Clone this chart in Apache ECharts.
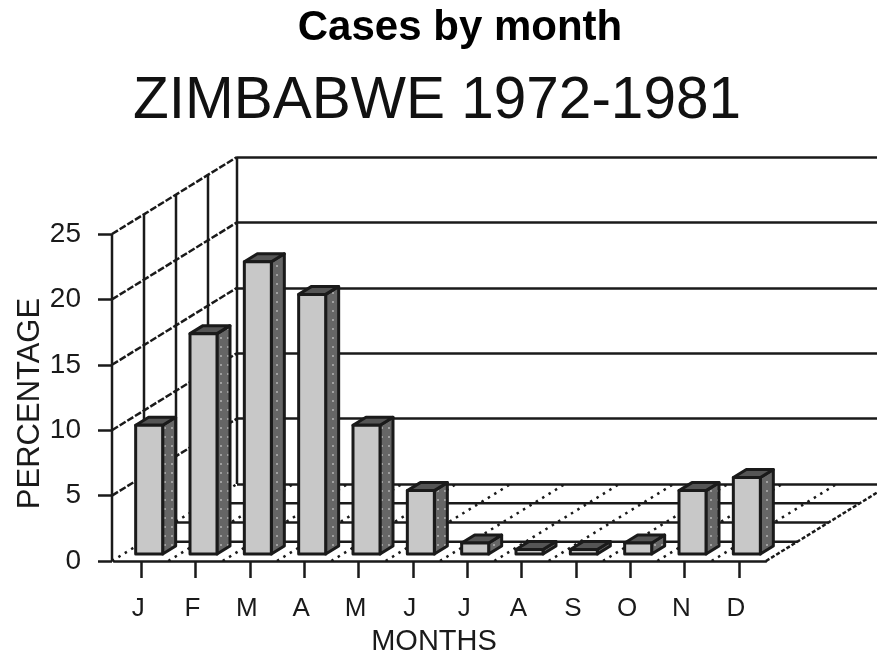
<!DOCTYPE html>
<html>
<head>
<meta charset="utf-8">
<style>
  html, body { margin: 0; padding: 0; background: #fff; }
  #chart { width: 877px; height: 655px; }
</style>
<script src="https://cdn.jsdelivr.net/npm/echarts@6/dist/echarts.min.js"></script>
</head>
<body>
<div id="chart"></div>
<script>
const months = ["J", "F", "M", "A", "M", "J", "J", "A", "S", "O", "N", "D"];
const percentages = [10, 17, 22.5, 20, 10, 5, 1, 0.5, 0.5, 1, 5, 6];
const yTicks = [0, 5, 10, 15, 20, 25];

const INK = "#1a1a1a";
const LINE_W = 2.5;
// depth of the fake 3D box, in px
const depthX = 125;
const depthY = 77;
const wallSteps = [0, 32, 64, 96, 125];
const wallLeft = 112;

// dotted dark fill for the bar sides
const sidePattern = document.createElement("canvas");
sidePattern.width = 7;
sidePattern.height = 9;
const pctx = sidePattern.getContext("2d");
pctx.fillStyle = "#666";
pctx.fillRect(0, 0, 7, 9);
pctx.fillStyle = "#a0a0a0";
pctx.fillRect(3, 4, 2, 2);

const line = (x1, y1, x2, y2, width, dash) => ({
  type: "line",
  shape: { x1, y1, x2, y2 },
  style: { stroke: INK, lineWidth: width, lineDash: dash || null },
});

// left wall and floor, worked out from the axis positions
function renderFrame(params, api) {
  const children = [];
  const band = api.size([1, 0])[0];
  const floorY = api.coord([0, 0])[1];
  const topY = api.coord([0, 25])[1];
  const firstEdge = api.coord([0, 0])[0] - band / 2;
  const edgeRight = firstEdge + band * months.length;

  // floor rows
  wallSteps.forEach((step, i) => {
    if (i === 0 || i === wallSteps.length - 1) return;
    const dy = (depthY * i) / (wallSteps.length - 1);
    const y = floorY - dy;
    const xEnd = edgeRight + (dy * depthX) / depthY;
    children.push(line(wallLeft + step, y, xEnd, y, LINE_W));
  });
  // floor diagonals
  for (let k = 0; k <= months.length; k++) {
    const x = k === 0 ? wallLeft : firstEdge + band * k;
    const dash = k === months.length ? [4, 2] : [2.5, 5];
    children.push(line(x, floorY, x + depthX, floorY - depthY, 2.5, dash));
  }
  // wall verticals
  wallSteps.forEach((step) => {
    const dy = (depthY * step) / depthX;
    children.push(line(wallLeft + step, topY - dy, wallLeft + step, floorY - dy, LINE_W));
  });
  // wall diagonals
  yTicks.forEach((v) => {
    if (v === 0) return;
    const y = api.coord([0, v])[1];
    children.push(line(wallLeft, y, wallLeft + depthX, y - depthY, LINE_W, [7, 2]));
  });
  return { type: "group", children };
}

// one bar: front, side and top faces
function renderBar(params, api) {
  const top = api.coord([api.value(0), api.value(1)]);
  const base = api.coord([api.value(0), 0]);
  const sx = 13;
  const sy = 8;
  const w = 27;
  const lift = 7;
  const left = base[0] - w / 2 + 8;
  const right = left + w;
  const bottom = base[1] - lift;
  const upper = top[1] - lift + 2;
  const stroke = { stroke: INK, lineWidth: 3, lineJoin: "round" };
  return {
    type: "group",
    children: [
      {
        type: "polygon",
        shape: { points: [[right, bottom], [right + sx, bottom - sy], [right + sx, upper - sy], [right, upper]] },
        style: { fill: { image: sidePattern, repeat: "repeat" }, ...stroke },
      },
      {
        type: "polygon",
        shape: { points: [[left, upper], [left + sx, upper - sy], [right + sx, upper - sy], [right, upper]] },
        style: { fill: "#555", ...stroke },
      },
      {
        type: "rect",
        shape: { x: left, y: upper, width: w, height: Math.max(bottom - upper, 1) },
        style: { fill: "#c8c8c8", ...stroke },
      },
    ],
  };
}

const chart = echarts.init(document.getElementById("chart"));
chart.setOption({
  animation: false,
  backgroundColor: "#fff",
  textStyle: { fontFamily: "Liberation Sans", color: INK },
  title: [
    {
      text: "Cases by month",
      left: 455,
      top: 2,
      textAlign: "center",
      textStyle: { fontFamily: "Liberation Sans", fontSize: 42, fontWeight: "bold", color: "#000" },
    },
    {
      text: "ZIMBABWE 1972-1981",
      left: 432,
      top: 67,
      textAlign: "center",
      textStyle: { fontFamily: "Liberation Sans", fontSize: 58.5, fontWeight: "normal", color: "#111" },
    },
  ],
  grid: [
    { left: 114, width: 652, top: 234, height: 327, outerBoundsMode: "none" },
    { left: 237, right: 0, top: 157, height: 327, outerBoundsMode: "none" },
  ],
  xAxis: [
    {
      type: "category",
      data: months,
      gridIndex: 0,
      name: "MONTHS",
      nameLocation: "middle",
      nameGap: 66,
      nameMoveOverlap: false,
      nameTextStyle: { fontSize: 29, color: INK, padding: [0, 12, 0, 0] },
      axisLine: { lineStyle: { color: INK, width: LINE_W } },
      axisTick: { show: true, alignWithLabel: true, length: 17, lineStyle: { color: INK, width: LINE_W } },
      axisLabel: { show: true, margin: 35, fontSize: 26, color: INK, padding: [0, 6, 0, 0], interval: 0 },
    },
    { type: "value", gridIndex: 1, show: false },
  ],
  yAxis: [
    {
      type: "value",
      gridIndex: 0,
      min: 0,
      max: 25,
      interval: 5,
      offset: 2,
      name: "PERCENTAGE",
      nameLocation: "middle",
      nameGap: 66,
      nameMoveOverlap: false,
      nameTextStyle: { fontSize: 31, color: INK, padding: [0, 12, 0, 0] },
      axisLine: { show: false },
      axisTick: { show: true, length: 14, lineStyle: { color: INK, width: LINE_W } },
      axisLabel: { margin: 31, fontSize: 28, color: INK },
      splitLine: { show: false },
    },
    {
      type: "value",
      gridIndex: 1,
      min: 0,
      max: 25,
      interval: 5,
      axisLine: { show: false },
      axisTick: { show: false },
      axisLabel: { show: false },
      splitLine: { show: true, lineStyle: { color: INK, width: LINE_W } },
    },
  ],
  series: [
    {
      type: "custom",
      name: "frame",
      xAxisIndex: 0,
      yAxisIndex: 0,
      clip: false,
      silent: true,
      z: 1,
      data: [[0, 0]],
      renderItem: renderFrame,
    },
    {
      type: "custom",
      name: "PERCENTAGE",
      xAxisIndex: 0,
      yAxisIndex: 0,
      clip: false,
      z: 5,
      data: months.map((m, i) => [i, percentages[i]]),
      encode: { x: 0, y: 1 },
      renderItem: renderBar,
    },
  ],
});
</script>
</body>
</html>
